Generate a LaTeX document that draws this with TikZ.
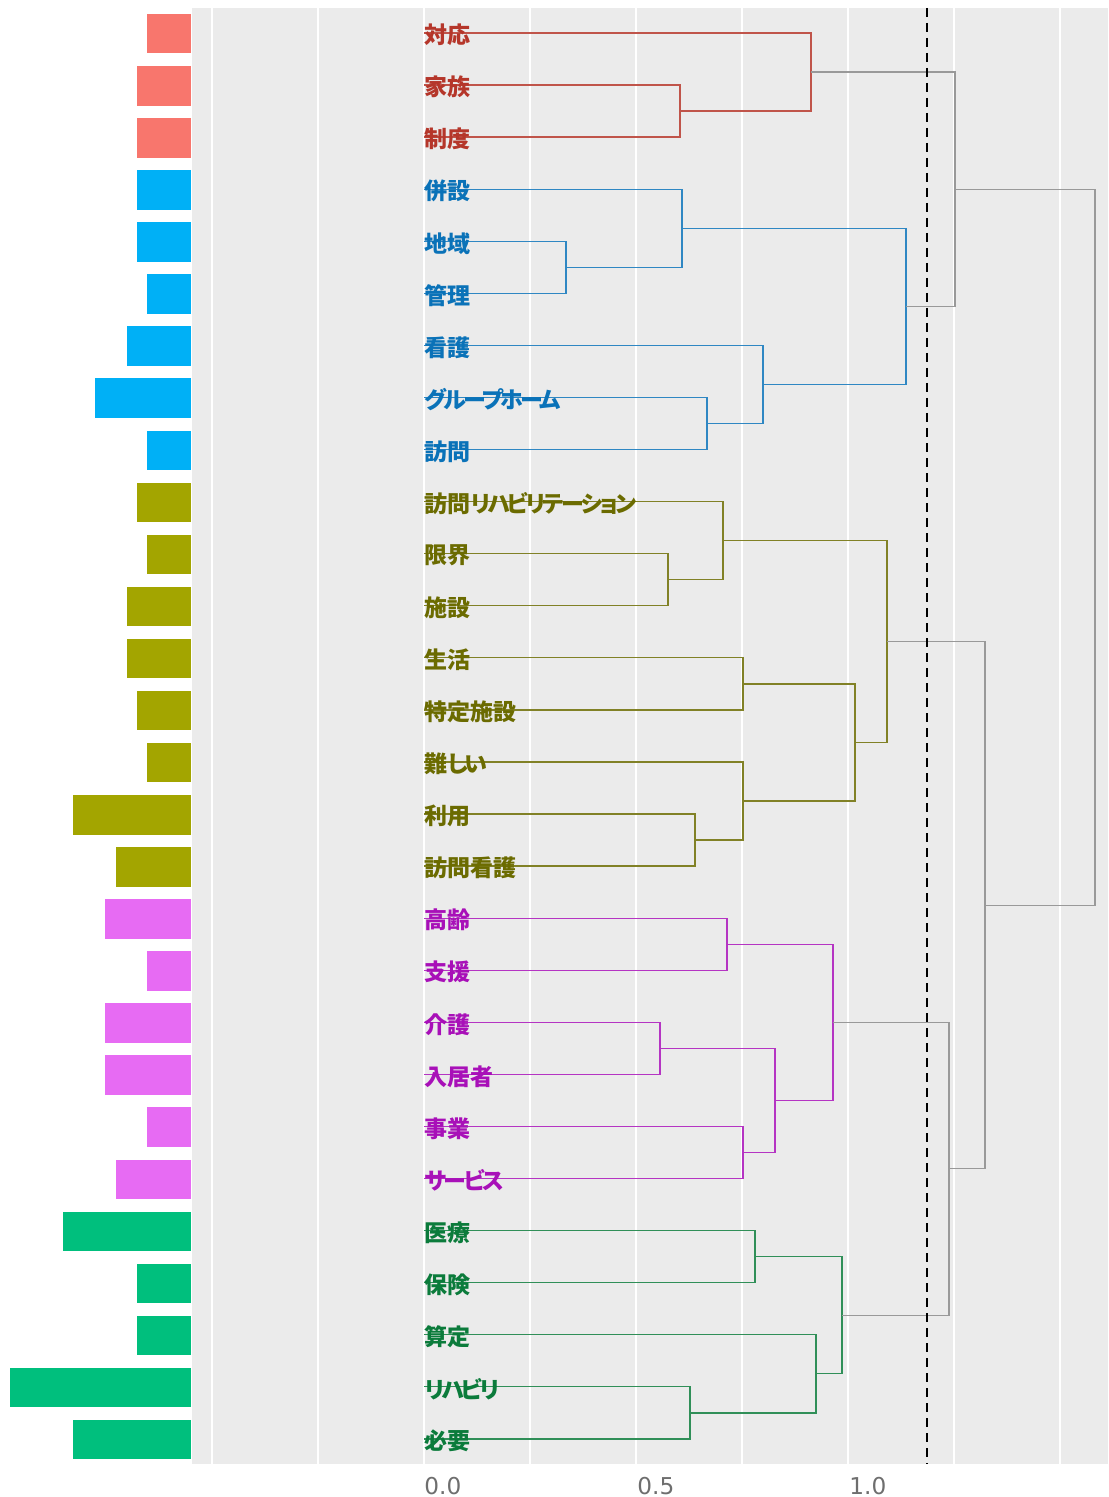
\documentclass[tikz,border=0pt]{standalone}
\usepackage{fontspec}
\setmainfont{DejaVu Sans}
\newfontfamily\jpfont{Noto Sans CJK JP}[RawFeature=+palt]
\newfontfamily\kanafont{Noto Sans CJK JP}[RawFeature=+palt, LetterSpace=-11]
\newcommand\kn{\kanafont\bfseries}
\usetikzlibrary{calc}

\definecolor{panelbg}{HTML}{EBEBEB}
\definecolor{barr}{HTML}{F8766D}
\definecolor{barb}{HTML}{00B0F6}
\definecolor{baro}{HTML}{A3A500}
\definecolor{barp}{HTML}{E76BF3}
\definecolor{barg}{HTML}{00BF7D}
\definecolor{txtr}{HTML}{B5362A}
\definecolor{txtb}{HTML}{0A72B8}
\definecolor{txto}{HTML}{6B6B00}
\definecolor{txtp}{HTML}{A810B8}
\definecolor{txtg}{HTML}{0B7B3B}
\definecolor{linkgray}{HTML}{999999}
\definecolor{ticktxt}{HTML}{6E6E6E}

\def\wordlist{147/対応/r, 137/家族/r, 137/制度/r,
  137/併設/b, 137/地域/b, 147/管理/b, 127/看護/b, 95/\kn グループホーム/b, 147/訪問/b,
  137/訪問\kn リハビリテーション/o, 147/限界/o, 127/施設/o, 127/生活/o, 137/特定施設/o,
  147/難\kn しい/o, 73/利用/o, 116/訪問看護/o,
  105/高齢/p, 147/支援/p, 105/介護/p, 105/入居者/p, 147/事業/p, 116/\kn サービス/p,
  63/医療/g, 137/保険/g, 137/算定/g, 10/\kn リハビリ/g, 73/必要/g}

\begin{document}
\begin{tikzpicture}[x=0.5pt, y=-0.5pt,
	link/.style={line width=0.65pt},
	leaf/.style={anchor=west, inner sep=0pt, font=\jpfont\bfseries\fontsize{11.5}{12}\selectfont}]
	\useasboundingbox (0,0) rectangle (1108,1497);
	% Panel
	\fill[panelbg] (192,8) rectangle (1108,1464);
	\foreach \x in {212,318,...,1060} {
		\draw[white, line width=0.6pt] (\x,8) -- (\x,1464);
	}
	% Bars and leaves
	\foreach \w/\t/\c [count=\i] in \wordlist {
		\fill[bar\c] (\w,{14+52.07*(\i-1)}) rectangle (191,{53.5+52.07*(\i-1)});
		\coordinate (l\i) at (424,{33+52.07*(\i-1)});
	}
	% Merges
	\coordinate (ra) at (680,111.1);
	\coordinate (rb) at (811,72.05);
	\coordinate (ba) at (566,267.3);
	\coordinate (bb) at (682,228.3);
	\coordinate (bc) at (707,423.5);
	\coordinate (bd) at (763,384.5);
	\coordinate (be) at (906,306.4);
	\coordinate (oa) at (668,579.7);
	\coordinate (ob) at (723,540.7);
	\coordinate (oc) at (743,683.9);
	\coordinate (od) at (695,840.1);
	\coordinate (oe) at (743,801.0);
	\coordinate (of) at (855,742.4);
	\coordinate (og) at (887,641.6);
	\coordinate (pa) at (727,944.2);
	\coordinate (pb) at (660,1048.4);
	\coordinate (pc) at (743,1152.5);
	\coordinate (pd) at (775,1100.4);
	\coordinate (pe) at (833,1022.3);
	\coordinate (qa) at (755,1256.6);
	\coordinate (qb) at (690,1412.9);
	\coordinate (qc) at (816,1373.8);
	\coordinate (qd) at (842,1315.2);
	\coordinate (ga) at (955,189.2);
	\coordinate (gb) at (949,1168.8);
	\coordinate (gc) at (985,905.2);
	\coordinate (gd) at (1095,547.2);
	% Links
	\foreach \a/\b in {l2/ra, l3/ra, l1/rb, ra/rb}
		\draw[link, txtr!85] (\a) -| (\b);
	\foreach \a/\b in {l5/ba, l6/ba, l4/bb, ba/bb, l8/bc, l9/bc, l7/bd, bc/bd, bb/be, bd/be}
		\draw[link, txtb!85] (\a) -| (\b);
	\foreach \a/\b in {l11/oa, l12/oa, l10/ob, oa/ob, l13/oc, l14/oc, l16/od, l17/od,
		l15/oe, od/oe, oc/of, oe/of, ob/og, of/og}
		\draw[link, txto!85] (\a) -| (\b);
	\foreach \a/\b in {l18/pa, l19/pa, l20/pb, l21/pb, l22/pc, l23/pc, pb/pd, pc/pd, pa/pe, pd/pe}
		\draw[link, txtp!85] (\a) -| (\b);
	\foreach \a/\b in {l24/qa, l25/qa, l27/qb, l28/qb, l26/qc, qb/qc, qa/qd, qc/qd}
		\draw[link, txtg!85] (\a) -| (\b);
	\foreach \a/\b in {rb/ga, be/ga, pe/gb, qd/gb, og/gc, gb/gc, ga/gd, gc/gd}
		\draw[link, linkgray] (\a) -| (\b);
	% Cut line
	\draw[line width=0.65pt, dash pattern=on 4.5pt off 3pt] (927,8) -- (927,1464);
	% Labels
	\foreach \w/\t/\c [count=\i] in \wordlist {
		\node[leaf, text=txt\c] (w\i) at ($(l\i)+(0,2)$) {\t};
	}
	\foreach \v/\x in {0.0/424, 0.5/637, 1.0/849} {
		\node[anchor=west, inner sep=0pt, text=ticktxt, font=\fontsize{11.6}{12}\selectfont] (t\x) at (\x,1486) {\v};
	}
\end{tikzpicture}
\end{document}
